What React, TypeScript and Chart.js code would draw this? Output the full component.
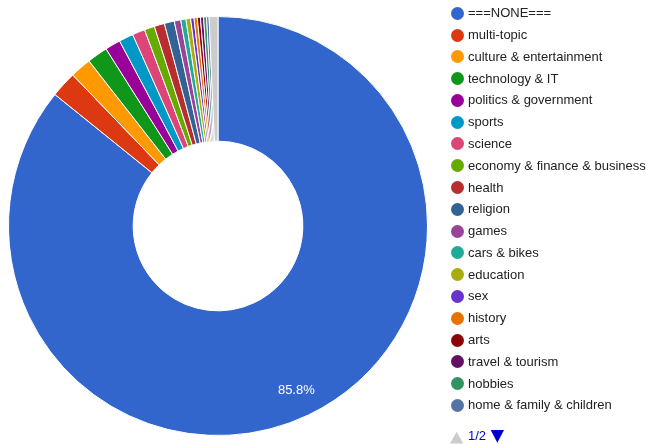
import React, { useEffect, useRef } from 'react';
import { Chart, registerables } from 'chart.js';

Chart.register(...registerables);

const categories = [
  '===NONE===',
  'multi-topic',
  'culture & entertainment',
  'technology & IT',
  'politics & government',
  'sports',
  'science',
  'economy & finance & business',
  'health',
  'religion',
  'games',
  'cars & bikes',
  'education',
  'sex',
  'history',
  'arts',
  'travel & tourism',
  'hobbies',
  'home & family & children',
  'Other',
];

const values = [
  85.8, 2.01, 1.63, 1.59, 1.19, 1.11, 0.97, 0.79, 0.79, 0.77,
  0.5, 0.4, 0.36, 0.26, 0.25, 0.24, 0.24, 0.23, 0.19, 0.68,
];

const sliceColors = [
  '#3366cc', '#dc3912', '#ff9900', '#109618', '#990099', '#0099c6',
  '#dd4477', '#66aa00', '#b82e2e', '#316395', '#994499', '#22aa99',
  '#aaaa11', '#6633cc', '#e67300', '#8b0707', '#651067', '#329262',
  '#5574a6', '#cccccc',
];

const legendPageSize = 19;
const legendPageText = '1/2';

const FONT = '"Liberation Sans", Arial, sans-serif';

const sliceLabelPlugin = {
  id: 'sliceLabels',
  afterDatasetsDraw(chart: any) {
    const meta = chart.getDatasetMeta(0);
    const data = chart.data.datasets[0].data as number[];
    const total = data.reduce((a, b) => a + b, 0);
    const ctx = chart.ctx;
    ctx.save();
    ctx.font = '13px ' + FONT;
    ctx.fillStyle = '#ffffff';
    ctx.textAlign = 'center';
    ctx.textBaseline = 'middle';
    meta.data.forEach((arc: any, i: number) => {
      const pct = (data[i] / total) * 100;
      if (pct < 5) return;
      const p = arc.getProps(['x', 'y', 'startAngle', 'endAngle', 'innerRadius', 'outerRadius'], true);
      const mid = (p.startAngle + p.endAngle) / 2;
      const r = p.innerRadius + 0.776 * (p.outerRadius - p.innerRadius);
      ctx.fillText(pct.toFixed(1) + '%', p.x + Math.cos(mid) * r, p.y + Math.sin(mid) * r + 1);
    });
    ctx.restore();
  },
};

const textStyle = {
  position: 'absolute' as const,
  top: 0,
  height: 20,
  fontFamily: FONT,
  fontSize: 13,
  lineHeight: '20px',
  whiteSpace: 'nowrap' as const,
};

export default function App() {
  const canvasRef = useRef<HTMLCanvasElement | null>(null);

  useEffect(() => {
    if (!canvasRef.current) return;
    const chart = new Chart(canvasRef.current, {
      type: 'doughnut',
      data: {
        labels: categories,
        datasets: [
          {
            data: values,
            backgroundColor: sliceColors,
            borderColor: '#ffffff',
            borderWidth: 1,
          },
        ],
      },
      options: {
        responsive: false,
        animation: false,
        cutout: '40.5%',
        layout: { padding: { left: 8, top: 16, right: 224, bottom: 8 } },
        plugins: {
          legend: { display: false },
          tooltip: { enabled: false },
        },
      },
      plugins: [sliceLabelPlugin],
    });
    return () => chart.destroy();
  }, []);

  const rowStart = 13.3;
  const rowStep = 21.78;

  return (
    <div style={{ position: 'absolute', left: 0, top: 0, width: 652, height: 444, overflow: 'hidden', background: '#ffffff' }}>
      <canvas ref={canvasRef} width={652} height={444} style={{ position: 'absolute', left: 0, top: 0 }} />
      {categories.slice(0, legendPageSize).map((name, i) => {
        const cy = rowStart + i * rowStep;
        return (
          <div key={name} style={{ position: 'absolute', left: 450, top: cy - 10, height: 20, width: 200 }}>
            <div
              style={{
                position: 'absolute',
                left: 0.5,
                top: 10 - 6.5,
                width: 13,
                height: 13,
                borderRadius: '50%',
                background: sliceColors[i],
              }}
            />
            <div style={{ ...textStyle, left: 18, color: '#222222' }}>{name}</div>
          </div>
        );
      })}
      <svg style={{ position: 'absolute', left: 450, top: 430 }} width={14} height={14}>
        <polygon points="0,13.5 13.3,13.5 6.65,1.7" fill="#cccccc" />
      </svg>
      <div style={{ ...textStyle, left: 468, top: 426, color: '#0000cc' }}>{legendPageText}</div>
      <svg style={{ position: 'absolute', left: 490, top: 430 }} width={15} height={14}>
        <polygon points="0.7,0 14,0 7.35,12.7" fill="#0000cc" />
      </svg>
    </div>
  );
}
